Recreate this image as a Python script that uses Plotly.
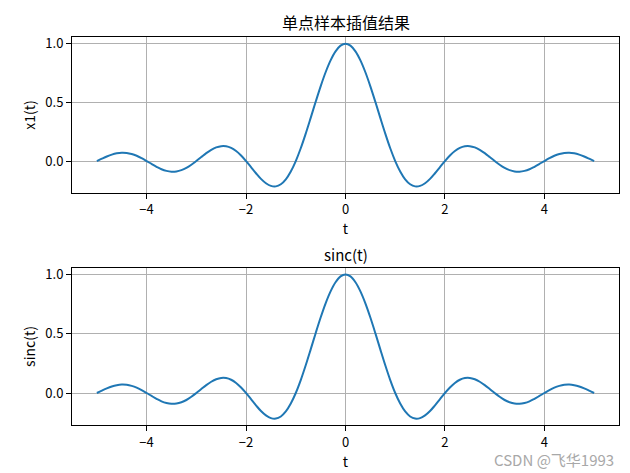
import plotly.graph_objects as go

t_vals = [-5.0, -4.9, -4.8, -4.7, -4.6, -4.5, -4.4, -4.3, -4.2, -4.1,
          -4.0, -3.9, -3.8, -3.7, -3.6, -3.5, -3.4, -3.3, -3.2, -3.1,
          -3.0, -2.9, -2.8, -2.7, -2.6, -2.5, -2.4, -2.3, -2.2, -2.1,
          -2.0, -1.9, -1.8, -1.7, -1.6, -1.5, -1.4, -1.3, -1.2, -1.1,
          -1.0, -0.9, -0.8, -0.7, -0.6, -0.5, -0.4, -0.3, -0.2, -0.1,
          0.0, 0.1, 0.2, 0.3, 0.4, 0.5, 0.6, 0.7, 0.8, 0.9,
          1.0, 1.1, 1.2, 1.3, 1.4, 1.5, 1.6, 1.7, 1.8, 1.9,
          2.0, 2.1, 2.2, 2.3, 2.4, 2.5, 2.6, 2.7, 2.8, 2.9,
          3.0, 3.1, 3.2, 3.3, 3.4, 3.5, 3.6, 3.7, 3.8, 3.9,
          4.0, 4.1, 4.2, 4.3, 4.4, 4.5, 4.6, 4.7, 4.8, 4.9, 5.0]

x1_vals = [0.000, 0.020, 0.039, 0.055, 0.066, 0.071, 0.069, 0.060, 0.045, 0.024,
           0.000, -0.025, -0.049, -0.070, -0.084, -0.091, -0.089, -0.078, -0.059, -0.032,
           0.000, 0.034, 0.067, 0.095, 0.116, 0.127, 0.126, 0.112, 0.085, 0.047,
           0.000, -0.052, -0.104, -0.152, -0.189, -0.212, -0.216, -0.198, -0.156, -0.089,
           0.000, 0.109, 0.234, 0.368, 0.505, 0.637, 0.757, 0.858, 0.935, 0.984,
           1.000, 0.984, 0.935, 0.858, 0.757, 0.637, 0.505, 0.368, 0.234, 0.109,
           0.000, -0.089, -0.156, -0.198, -0.216, -0.212, -0.189, -0.152, -0.104, -0.052,
           0.000, 0.047, 0.085, 0.112, 0.126, 0.127, 0.116, 0.095, 0.067, 0.034,
           0.000, -0.032, -0.059, -0.078, -0.089, -0.091, -0.084, -0.070, -0.049, -0.025,
           0.000, 0.024, 0.045, 0.060, 0.069, 0.071, 0.066, 0.055, 0.039, 0.020, 0.000]

sinc_vals = [0.000, 0.020, 0.039, 0.055, 0.066, 0.071, 0.069, 0.060, 0.045, 0.024,
             0.000, -0.025, -0.049, -0.070, -0.084, -0.091, -0.089, -0.078, -0.059, -0.032,
             0.000, 0.034, 0.067, 0.095, 0.116, 0.127, 0.126, 0.112, 0.085, 0.047,
             0.000, -0.052, -0.104, -0.152, -0.189, -0.212, -0.216, -0.198, -0.156, -0.089,
             0.000, 0.109, 0.234, 0.368, 0.505, 0.637, 0.757, 0.858, 0.935, 0.984,
             1.000, 0.984, 0.935, 0.858, 0.757, 0.637, 0.505, 0.368, 0.234, 0.109,
             0.000, -0.089, -0.156, -0.198, -0.216, -0.212, -0.189, -0.152, -0.104, -0.052,
             0.000, 0.047, 0.085, 0.112, 0.126, 0.127, 0.116, 0.095, 0.067, 0.034,
             0.000, -0.032, -0.059, -0.078, -0.089, -0.091, -0.084, -0.070, -0.049, -0.025,
             0.000, 0.024, 0.045, 0.060, 0.069, 0.071, 0.066, 0.055, 0.039, 0.020, 0.000]

x_ticks = [-4, -2, 0, 2, 4]
x_tick_labels = ["\u22124", "\u22122", "0", "2", "4"]
y_ticks = [0.0, 0.5, 1.0]
y_tick_labels = ["0.0", "0.5", "1.0"]

title_top = "单点样本插值结果"
title_bottom = "sinc(t)"
ylabel_top = "x1(t)"
ylabel_bottom = "sinc(t)"
xlabel = "t"
watermark = "CSDN @飞华1993"

FONT = "Noto Sans CJK SC"
LINE_COLOR = "#1f77b4"
W, H = 630, 473
ML, MR, MT, MB = 72, 11, 37, 48
PW, PH = W - ML - MR, H - MT - MB


def px_x(px):
    return (px - ML) / PW


def px_y(py):
    return (H - MB - py) / PH


fig = go.Figure()
fig.add_trace(go.Scatter(x=t_vals, y=x1_vals, mode="lines", line=dict(color=LINE_COLOR, width=2, shape="spline"),
                         xaxis="x", yaxis="y", showlegend=False))
fig.add_trace(go.Scatter(x=t_vals, y=sinc_vals, mode="lines", line=dict(color=LINE_COLOR, width=2, shape="spline"),
                         xaxis="x2", yaxis="y2", showlegend=False))

ydom_top = [px_y(192.7), px_y(37.3)]
ydom_bot = [px_y(425), px_y(268)]

common_x = dict(range=[-5.5, 5.5], tickvals=x_ticks, ticktext=x_tick_labels, showgrid=True,
                gridcolor="#b0b0b0", gridwidth=0.8, zeroline=False, showline=True, mirror=True,
                linecolor="black", linewidth=1, ticks="outside", ticklen=5, tickcolor="black",
                tickfont=dict(family=FONT, size=13, color="black"), domain=[0, 1], automargin=False,
                title=dict(text=xlabel, font=dict(family=FONT, size=14, color="black"), standoff=2))
common_y = dict(range=[-0.270, 1.055], tickvals=y_ticks, ticktext=y_tick_labels, showgrid=True,
                gridcolor="#b0b0b0", gridwidth=0.8, zeroline=False, showline=True, mirror=True,
                linecolor="black", linewidth=1, ticks="outside", ticklen=5, tickcolor="black",
                automargin=False, tickfont=dict(family=FONT, size=13, color="black"))

fig.update_layout(
    width=W, height=H,
    margin=dict(l=ML, r=MR, t=MT, b=MB),
    paper_bgcolor="white", plot_bgcolor="white",
    xaxis=dict(**common_x, anchor="y"),
    yaxis=dict(**common_y, domain=ydom_top, anchor="x",
               title=dict(text=ylabel_top, font=dict(family=FONT, size=14, color="black"), standoff=6)),
    xaxis2=dict(**common_x, anchor="y2"),
    yaxis2=dict(**common_y, domain=ydom_bot, anchor="x2",
                title=dict(text=ylabel_bottom, font=dict(family=FONT, size=14, color="black"), standoff=6)),
    annotations=[
        dict(text=title_top, x=0.5, y=px_y(22), xref="paper", yref="paper",
             showarrow=False, font=dict(family=FONT, size=16, color="black"), xanchor="center", yanchor="middle"),
        dict(text=title_bottom, x=0.5, y=px_y(254), xref="paper", yref="paper",
             showarrow=False, font=dict(family=FONT, size=15, color="black"), xanchor="center", yanchor="middle"),
        dict(text=watermark, x=px_x(616), y=px_y(460), xref="paper", yref="paper",
             showarrow=False, font=dict(family=FONT, size=15, color="#a8a8a8"), xanchor="right", yanchor="middle"),
    ],
)

fig.write_html("out.html", config={"displayModeBar": False},
               post_script="document.body.style.margin='0';document.body.style.overflow='hidden';")
